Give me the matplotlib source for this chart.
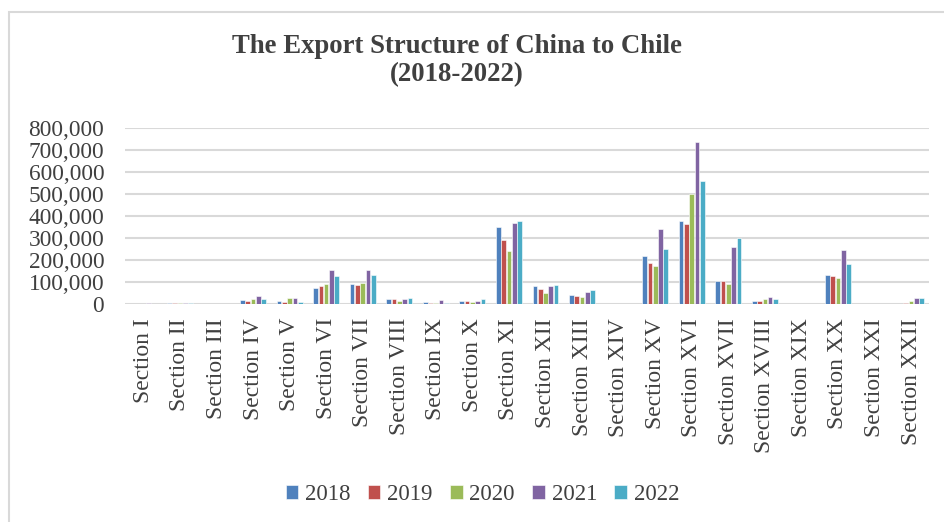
import numpy as np
import matplotlib
matplotlib.use("Agg")
import matplotlib.pyplot as plt
from matplotlib.patches import Rectangle
from matplotlib.ticker import FuncFormatter

plt.rcParams['font.family'] = ['Liberation Serif', 'DejaVu Serif']

sections = ["Section I", "Section II", "Section III", "Section IV", "Section V",
            "Section VI", "Section VII", "Section VIII", "Section IX", "Section X",
            "Section XI", "Section XII", "Section XIII", "Section XIV", "Section XV",
            "Section XVI", "Section XVII", "Section XVIII", "Section XIX", "Section XX",
            "Section XXI", "Section XXII"]
years = ["2018", "2019", "2020", "2021", "2022"]

exp_2018 = [2000, 3000, 0, 20000, 12000, 74000, 91000, 21000, 7500, 12000, 348000,
            80000, 39000, 0, 217000, 376000, 103000, 15000, 0, 133000, 0, 1000]
exp_2019 = [1500, 3000, 0, 15000, 7500, 80000, 86000, 21000, 5000, 12000, 291000,
            70000, 36000, 0, 188000, 365000, 106000, 15000, 0, 129000, 0, 6000]
exp_2020 = [1500, 3000, 0, 23000, 27000, 89000, 95000, 12000, 2500, 9000, 242000,
            48000, 30000, 0, 171000, 500000, 91000, 21000, 0, 120000, 0, 12000]
exp_2021 = [3000, 6000, 0, 35000, 27000, 153000, 153000, 23000, 20000, 15000, 370000,
            82000, 55000, 0, 339000, 738000, 258000, 30000, 0, 245000, 0, 29000]
exp_2022 = [2000, 6000, 2000, 24000, 7500, 127000, 132000, 26000, 5000, 21000, 376000,
            85000, 62000, 0, 252000, 561000, 298000, 24000, 0, 182000, 0, 26000]
series = [exp_2018, exp_2019, exp_2020, exp_2021, exp_2022]
colors = ["#4F81BD", "#C0504D", "#9BBB59", "#8064A2", "#4BACC6"]

txt = "#404040"

fig = plt.figure(figsize=(9.44, 5.22), dpi=100)
ax = fig.add_axes([0.1325, 0.4176, 0.852, 0.3372])

x = np.arange(len(sections))
w = 0.145
for i, (vals, c, yr) in enumerate(zip(series, colors, years)):
    ax.bar(x + (i - 2) * w, vals, width=w * 0.88, color=c, label=yr,
           edgecolor="white", linewidth=0.4, zorder=3)

ax.set_xlim(-0.5, len(sections) - 0.5)
ax.set_ylim(0, 800000)
ax.set_yticks(np.arange(0, 800001, 100000))
ax.yaxis.set_major_formatter(FuncFormatter(lambda v, p: f"{int(v):,}"))
ax.grid(axis="y", color="#D9D9D9", linewidth=1.5, zorder=0)
for s in ax.spines.values():
    s.set_visible(False)
ax.set_xticks(x)
ax.set_xticklabels(sections, rotation=90, fontsize=17, color=txt)
ax.tick_params(axis="both", length=0, colors=txt)
ax.tick_params(axis="y", labelsize=16.8, pad=15)
ax.tick_params(axis="x", pad=10)

fig.text(0.484, 0.884, "The Export Structure of China to Chile\n(2018-2022)",
         ha="center", va="center", fontsize=19.3, fontweight="bold", color=txt,
         linespacing=1.15)

fig.legend(loc="center", bbox_to_anchor=(0.511, 0.052), ncol=5, frameon=False,
           fontsize=16.5, handlelength=0.55, handleheight=0.55, handletextpad=0.3,
           columnspacing=0.75, labelcolor=txt)

fig.patches.append(Rectangle((9 / 944, -0.1), 1.2, 1 - 12 / 522 + 0.1,
                             transform=fig.transFigure, fill=False,
                             edgecolor="#D9D9D9", linewidth=1.5))

fig.savefig("out.png", dpi=100)
